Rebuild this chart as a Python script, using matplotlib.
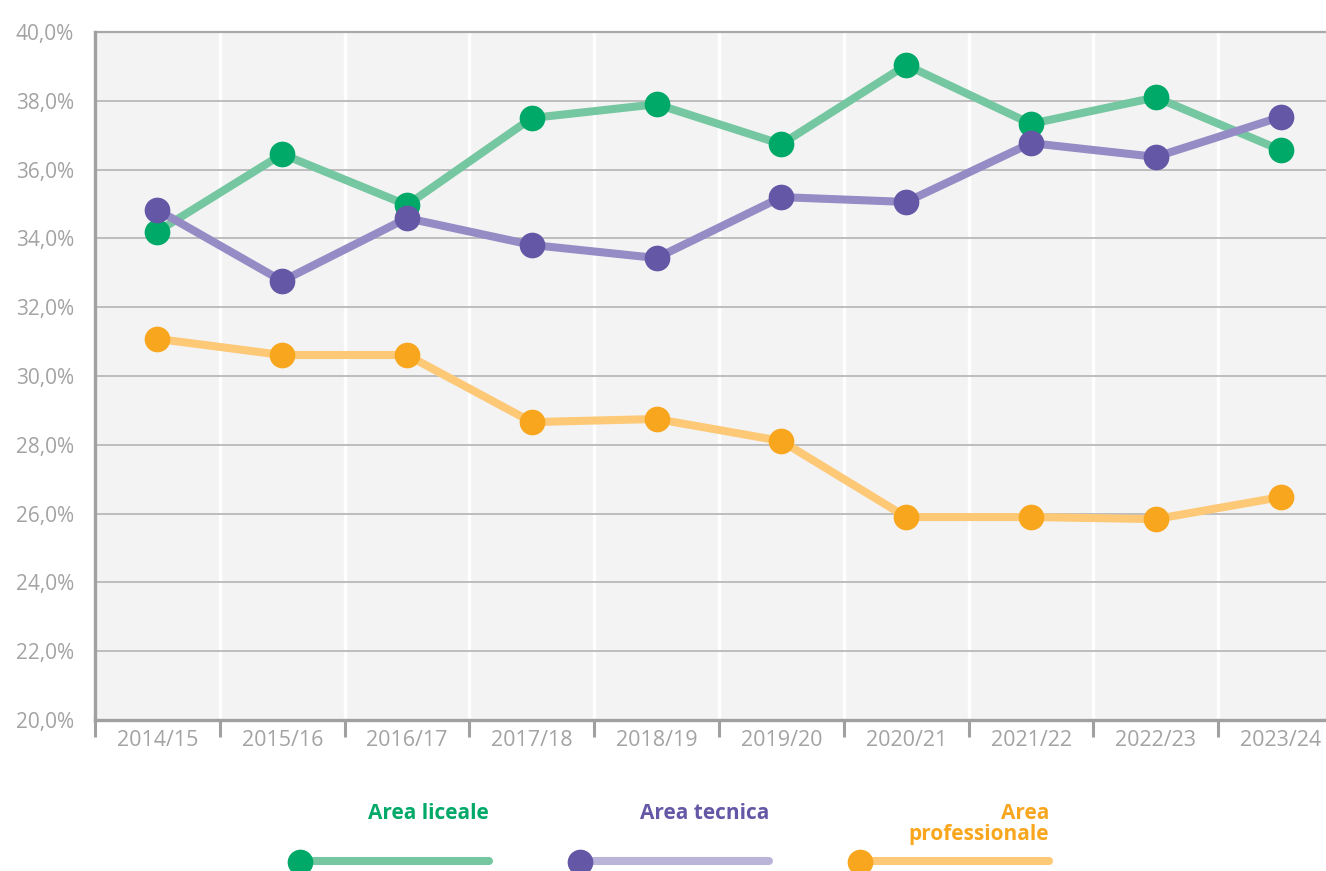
import numpy as np
import matplotlib
matplotlib.use('Agg')
import matplotlib.pyplot as plt
from matplotlib.lines import Line2D

plt.rcParams['font.family'] = ['Open Sans', 'DejaVu Sans']

years = ['2014/15', '2015/16', '2016/17', '2017/18', '2018/19',
         '2019/20', '2020/21', '2021/22', '2022/23', '2023/24']
liceale = [34.2, 36.45, 34.97, 37.5, 37.9, 36.74, 39.04, 37.33, 38.1, 36.57]
tecnica = [34.83, 32.76, 34.59, 33.81, 33.43, 35.2, 35.06, 36.77, 36.37, 37.53]
professionale = [31.08, 30.61, 30.61, 28.66, 28.75, 28.11, 25.9, 25.9, 25.84, 26.48]
y_ticks = [20, 22, 24, 26, 28, 30, 32, 34, 36, 38, 40]

series = [
    ('Area liceale', liceale, '#00A968', '#74C7A0', '#74C7A0'),
    ('Area tecnica', tecnica, '#6457A6', '#958BC5', '#BBB4D9'),
    ('Area\nprofessionale', professionale, '#F9A61F', '#FDC977', '#FDC977'),
]

W, H = 1326, 871
fig = plt.figure(figsize=(W / 100, H / 100), dpi=100)
ax = fig.add_axes([95 / W, 151 / H, 1248 / W, 688 / H])
ax.set_facecolor('#F3F3F3')

x = np.arange(len(years))
for name, vals, mcol, lcol, _ in series:
    ax.plot(x, vals, color=lcol, lw=5.8, zorder=3, solid_capstyle='round')
    ax.plot(x, vals, 'o', color=mcol, ms=18.5, mew=0, zorder=4)

ax.set_xlim(-0.5, len(years) - 0.5)
ax.set_ylim(20, 40)

# vertical separators (white) and horizontal grid
for b in np.arange(0.5, len(years) - 0.5, 1):
    ax.axvline(b, color='white', lw=2.5, zorder=1)
for v in y_ticks[1:-1]:
    ax.axhline(v, color='#BDBDBD', lw=1.4, zorder=2)
ax.axhline(40, color='#A8A8A8', lw=1.6, zorder=2, clip_on=False)

ax.set_yticks(y_ticks)
ax.set_yticklabels([f'{v},0%' for v in y_ticks])
ax.tick_params(axis='y', length=0, pad=15, labelsize=15, labelcolor='#A3A3A3')

ax.set_xticks(np.arange(-0.5, len(years) - 0.5, 1))
ax.set_xticklabels([])
ax.set_xticks(x, minor=True)
ax.set_xticklabels(years, minor=True)
ax.tick_params(axis='x', which='major', direction='out', length=12, width=2.2, color='#A0A0A0')
ax.tick_params(axis='x', which='minor', length=0, pad=7, labelsize=15.5, labelcolor='#A3A3A3')

for s in ['top', 'right']:
    ax.spines[s].set_visible(False)
for s in ['left', 'bottom']:
    ax.spines[s].set_color('#A0A0A0')
    ax.spines[s].set_linewidth(2.4)
    ax.spines[s].set_zorder(5)

# legend drawn in pixel coordinates
lax = fig.add_axes([0, 0, 1, 1])
lax.set_xlim(0, W)
lax.set_ylim(H, 0)
lax.axis('off')
legend_x = [300, 580, 860]
for (name, vals, mcol, lcol, legcol), x0 in zip(series, legend_x):
    lax.add_line(Line2D([x0, x0 + 189], [861, 861], color=legcol, lw=5.8,
                        solid_capstyle='round', zorder=2))
    lax.plot([x0], [862], 'o', color=mcol, ms=18.5, mew=0, zorder=3, clip_on=False)
    lax.text(x0 + 189, 824 if '\n' in name else 813, name, color=mcol, fontsize=15,
             fontweight='bold', ha='right', va='center', linespacing=1.05)

fig.savefig('out.png', dpi=100)
